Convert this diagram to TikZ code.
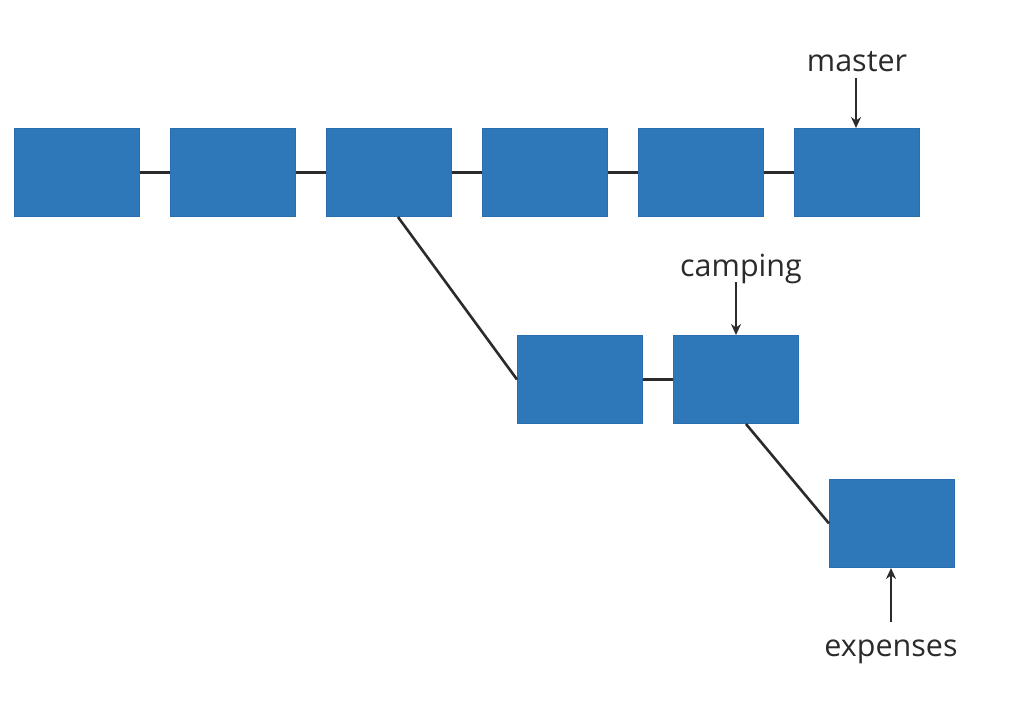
\documentclass[tikz,border=0pt]{standalone}
\usepackage{fontspec}
\setmainfont{Open Sans}
\usetikzlibrary{arrows.meta}
\definecolor{boxblue}{HTML}{2E78BA}
\definecolor{boxedge}{HTML}{2A6EAD}
\definecolor{ink}{HTML}{2B2B2B}
\begin{document}
\begin{tikzpicture}[x=1pt,y=-1pt,
  commit/.style={draw=boxedge,line width=1pt,fill=boxblue,minimum width=125pt,minimum height=88pt,inner sep=0pt,anchor=north west},
  link/.style={draw=ink,line width=2.6pt},
  pointer/.style={draw=ink,line width=1.9pt,-{Stealth[length=11pt,width=10pt]}},
  lbl/.style={font=\fontsize{30.5}{34}\selectfont,text=ink,inner sep=0pt}]
\useasboundingbox (0,0) rectangle (1012,706);
\node[commit] (c1) at (14,128) {};
\node[commit] (c2) at (170,128) {};
\node[commit] (c3) at (326,128) {};
\node[commit] (c4) at (482,128) {};
\node[commit] (c5) at (638,128) {};
\node[commit] (c6) at (794,128) {};
\node[commit] (b1) at (517,335) {};
\node[commit] (b2) at (673,335) {};
\node[commit] (e1) at (829,479) {};
\draw[link] (c1.east) -- (c2.west);
\draw[link] (c2.east) -- (c3.west);
\draw[link] (c3.east) -- (c4.west);
\draw[link] (c4.east) -- (c5.west);
\draw[link] (c5.east) -- (c6.west);
\draw[link] (b1.east) -- (b2.west);
\draw[link] ([xshift=9pt]c3.south) -- (b1.west);
\draw[link] ([xshift=10pt]b2.south) -- (e1.west);
\node[lbl] (lm) at (857,62) {master};
\node[lbl] (lc) at (741,269) {camping};
\node[lbl] (le) at (891,652) {expenses};
\coordinate (pm) at (856,78);
\coordinate (pc) at (736,282);
\coordinate (pe) at (891,622);
\draw[pointer] (pm) -- (pm |- c6.north);
\draw[pointer] (pc) -- (pc |- b2.north);
\draw[pointer] (pe) -- (pe |- e1.south);
\end{tikzpicture}
\end{document}
